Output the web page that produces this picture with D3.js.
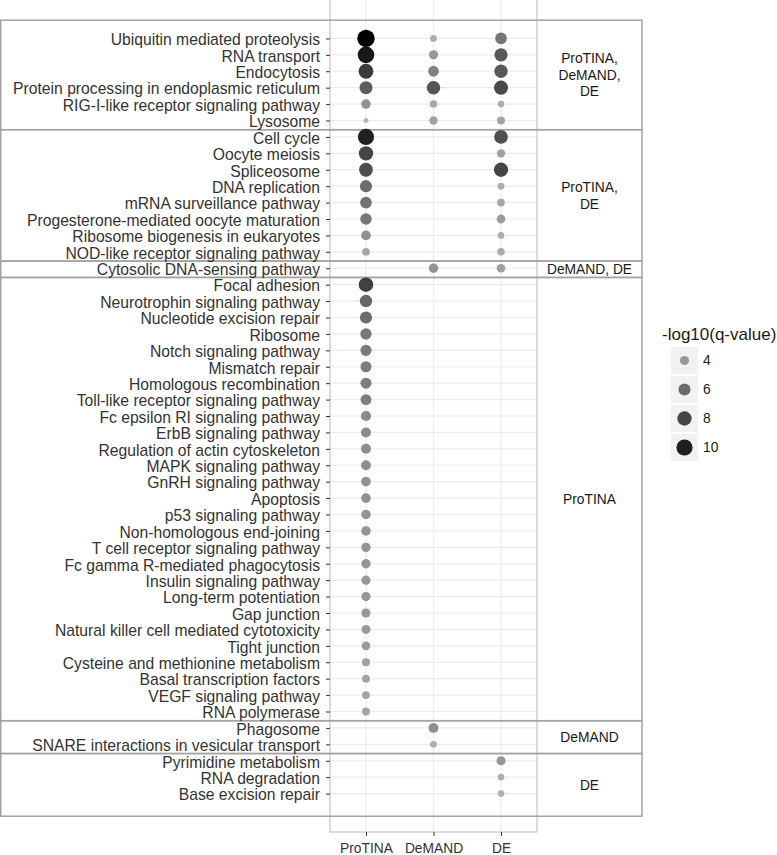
<!DOCTYPE html>
<html>
<head>
<meta charset="utf-8">
<script src="https://cdnjs.cloudflare.com/ajax/libs/d3/7.8.5/d3.min.js"></script>
<style>
  body { margin: 0; background: #fff; }
  svg { display: block; font-family: "Liberation Sans", Arial, sans-serif; }
</style>
</head>
<body>
<svg id="chart" width="777" height="855"></svg>
<script>
var pathways = [
    "Ubiquitin mediated proteolysis", "RNA transport", "Endocytosis",
    "Protein processing in endoplasmic reticulum", "RIG-I-like receptor signaling pathway", "Lysosome",
    "Cell cycle", "Oocyte meiosis", "Spliceosome", "DNA replication", "mRNA surveillance pathway",
    "Progesterone-mediated oocyte maturation", "Ribosome biogenesis in eukaryotes", "NOD-like receptor signaling pathway",
    "Cytosolic DNA-sensing pathway",
    "Focal adhesion", "Neurotrophin signaling pathway", "Nucleotide excision repair", "Ribosome",
    "Notch signaling pathway", "Mismatch repair", "Homologous recombination", "Toll-like receptor signaling pathway",
    "Fc epsilon RI signaling pathway", "ErbB signaling pathway", "Regulation of actin cytoskeleton",
    "MAPK signaling pathway", "GnRH signaling pathway", "Apoptosis", "p53 signaling pathway",
    "Non-homologous end-joining", "T cell receptor signaling pathway", "Fc gamma R-mediated phagocytosis",
    "Insulin signaling pathway", "Long-term potentiation", "Gap junction", "Natural killer cell mediated cytotoxicity",
    "Tight junction", "Cysteine and methionine metabolism", "Basal transcription factors",
    "VEGF signaling pathway", "RNA polymerase",
    "Phagosome", "SNARE interactions in vesicular transport",
    "Pyrimidine metabolism", "RNA degradation", "Base excision repair"
];

var methods = ["ProTINA", "DeMAND", "DE"];

// -log10(q-value) per pathway, null = not significant for that method
var proTINA = [
    11.5, 10.5, 8.5, 6.8, 4.2, 2.5,
    10, 8, 7.5, 6, 5.7, 5.5, 4.3, 3.3,
    null,
    8.2, 6.3, 6, 5.4, 5.3, 5.2, 5.2, 5.1, 4.6, 4.5, 4.5, 4.4, 4.3, 4.3,
    4.2, 4.2, 4.1, 4.1, 4.0, 4.0, 4.0, 3.9, 3.8, 3.5, 3.4, 3.4, 3.4,
    null, null,
    null, null, null
];
var deMAND = [
    3.0, 4.0, 5.0, 7.2, 3.2, 3.6,
    null, null, null, null, null, null, null, null,
    4.2,
    null, null, null, null, null, null, null, null, null, null, null, null, null, null,
    null, null, null, null, null, null, null, null, null, null, null, null, null,
    4.4, 3.0,
    null, null, null
];
var de = [
    5.6, 7.0, 7.0, 7.8, 2.9, 3.4,
    7.4, 3.6, 8.0, 3.0, 3.3, 3.8, 2.9, 3.2,
    3.7,
    null, null, null, null, null, null, null, null, null, null, null, null, null, null,
    null, null, null, null, null, null, null, null, null, null, null, null, null,
    null, null,
    4.0, 2.9, 2.9
];

var groupNames = [["ProTINA,", "DeMAND,", "DE"], ["ProTINA,", "DE"], ["DeMAND, DE"], ["ProTINA"], ["DeMAND"], ["DE"]];
var groupSizes = [6, 8, 1, 27, 2, 3];

var legendTitle = "-log10(q-value)";
var legendBreaks = [4, 6, 8, 10];

(function render() {
    var svg = d3.select("#chart");

    var panel = { left: 330, right: 537, top: 0, bottom: 832 };
    var boxLeft = 0, boxRight = 642;

    var fnScaleX = d3.scalePoint()
        .domain(methods)
        .range([panel.left, panel.right])
        .padding(0.533);

    var fnScaleY = d3.scalePoint()
        .domain(pathways)
        .range([panel.top, panel.bottom])
        .padding(2.34);
    var step = fnScaleY.step();

    // size + colour share the same legend
    var vMin = 2.3, vMax = 11.5;
    var fnRadius = d3.scaleSqrt().domain([0, vMax - vMin]).range([1.45, 8.7]);
    var fnColor = d3.scaleLinear()
        .domain([vMin, vMax])
        .range(["#bdbdbd", "#000000"])
        .interpolate(d3.interpolateLab);
    function radius(v) { return fnRadius(v - vMin); }

    var points = [];
    var series = [proTINA, deMAND, de];
    series.forEach(function (vals, j) {
        vals.forEach(function (v, i) {
            if (v !== null) points.push({ m: methods[j], p: pathways[i], v: v });
        });
    });

    /** panel grid */
    svg.append("g").selectAll("line.h").data(pathways).enter().append("line")
        .attr("x1", panel.left).attr("x2", panel.right)
        .attr("y1", function (d) { return fnScaleY(d); })
        .attr("y2", function (d) { return fnScaleY(d); })
        .style("stroke", "#ebebeb").style("stroke-width", 1.1);
    svg.append("g").selectAll("line.v").data(methods).enter().append("line")
        .attr("y1", panel.top).attr("y2", panel.bottom)
        .attr("x1", function (d) { return fnScaleX(d); })
        .attr("x2", function (d) { return fnScaleX(d); })
        .style("stroke", "#ebebeb").style("stroke-width", 1.1);
    svg.append("rect")
        .attr("x", panel.left).attr("y", panel.top - 1)
        .attr("width", panel.right - panel.left).attr("height", panel.bottom - panel.top + 1)
        .style("fill", "none").style("stroke", "#b8b8b8").style("stroke-width", 1);

    /** group boxes */
    var start = 0;
    var boxes = groupSizes.map(function (n, g) {
        var first = pathways[start], last = pathways[start + n - 1];
        var top = g === 0 ? fnScaleY(first) - step * 1.11 : fnScaleY(first) - step * 0.5 + 1;
        var bottom = g === groupSizes.length - 1 ? fnScaleY(last) + step * 1.38 : fnScaleY(last) + step * 0.5 + 1;
        start += n;
        return { top: top, bottom: bottom, lines: groupNames[g] };
    });
    svg.append("g").selectAll("rect").data(boxes).enter().append("rect")
        .attr("x", boxLeft + 0.75)
        .attr("y", function (d) { return d.top; })
        .attr("width", boxRight - boxLeft - 0.75)
        .attr("height", function (d) { return d.bottom - d.top; })
        .style("fill", "none").style("stroke", "#a3a3a3").style("stroke-width", 1.5);

    var labelX = (panel.right + boxRight) / 2;
    boxes.forEach(function (b) {
        var mid = (b.top + b.bottom) / 2;
        var lh = 16.5;
        var t = svg.append("text")
            .attr("text-anchor", "middle")
            .style("font-size", "13.8px").style("fill", "#1a1a1a");
        b.lines.forEach(function (s, k) {
            t.append("tspan")
                .attr("x", labelX)
                .attr("y", mid + (k - (b.lines.length - 1) / 2) * lh)
                .attr("dy", "0.36em")
                .text(s);
        });
    });

    /** points */
    svg.append("g").selectAll("circle").data(points).enter().append("circle")
        .attr("cx", function (d) { return fnScaleX(d.m); })
        .attr("cy", function (d) { return fnScaleY(d.p); })
        .attr("r", function (d) { return radius(d.v); })
        .style("fill", function (d) { return fnColor(d.v); });

    /** y axis */
    var axisY = d3.axisLeft(fnScaleY).tickSize(4).tickPadding(6);
    var gy = svg.append("g")
        .attr("transform", "translate(" + panel.left + ",0)")
        .call(axisY);
    gy.select(".domain").remove();
    gy.selectAll(".tick line").style("stroke", "#333");
    gy.selectAll(".tick text")
        .attr("dy", "0.4em")
        .style("font-size", "15.7px").style("fill", "#333")
        .style("font-family", "'Liberation Sans', Arial, sans-serif");

    /** x axis */
    var axisX = d3.axisBottom(fnScaleX).tickSize(4).tickPadding(7);
    var gx = svg.append("g")
        .attr("transform", "translate(0," + panel.bottom + ")")
        .call(axisX);
    gx.select(".domain").remove();
    gx.selectAll(".tick line").style("stroke", "#333");
    gx.selectAll(".tick text")
        .style("font-size", "13.8px").style("fill", "#333")
        .style("font-family", "'Liberation Sans', Arial, sans-serif");

    /** legend */
    var lg = svg.append("g").attr("transform", "translate(671,0)");
    lg.append("text")
        .attr("x", -9).attr("y", 340)
        .style("font-size", "17px").style("fill", "#1a1a1a")
        .text(legendTitle);
    var keys = lg.selectAll("g.key").data(legendBreaks).enter().append("g")
        .attr("transform", function (d, i) { return "translate(0," + (347 + i * 29) + ")"; });
    keys.append("rect")
        .attr("width", 27).attr("height", 27)
        .style("fill", "#f2f2f2");
    keys.append("circle")
        .attr("cx", 13.5).attr("cy", 13.5)
        .attr("r", function (d) { return radius(d); })
        .style("fill", function (d) { return fnColor(d); });
    keys.append("text")
        .attr("x", 32).attr("y", 13.5).attr("dy", "0.36em")
        .style("font-size", "13.8px").style("fill", "#1a1a1a")
        .text(function (d) { return d; });
})();
</script>
</body>
</html>
